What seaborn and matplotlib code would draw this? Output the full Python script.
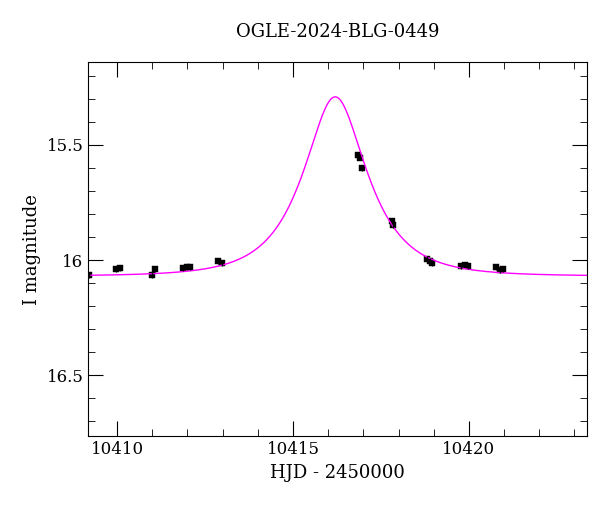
import numpy as np
import pandas as pd
import matplotlib
matplotlib.use("Agg")
import matplotlib.pyplot as plt
import seaborn as sns
from matplotlib.ticker import MultipleLocator

hjd = [10409.2, 10409.98, 10410.08, 10410.98, 10411.08, 10411.88, 10411.98, 10412.08,
       10412.88, 10412.98, 10416.85, 10416.9, 10416.95, 10417.8, 10417.85,
       10418.8, 10418.9, 10418.95, 10419.78, 10419.88, 10419.98, 10420.78, 10420.88, 10420.98]
mag = [16.065, 16.04, 16.035, 16.065, 16.04, 16.035, 16.03, 16.03,
       16.005, 16.015, 15.545, 15.555, 15.6, 15.83, 15.85,
       15.995, 16.005, 16.012, 16.025, 16.02, 16.025, 16.03, 16.045, 16.04]
err = [0.012] * len(hjd)

# PSPL model parameters
t0, u0, tE, I0, fs = 10416.2, 0.54, 1.5, 16.07, 1.0

t = np.linspace(10409.18, 10423.35, 800)
u = np.sqrt(u0**2 + ((t - t0) / tE) ** 2)
A = (u**2 + 2) / (u * np.sqrt(u**2 + 4))
model = I0 - 2.5 * np.log10(fs * A + 1 - fs)

plt.rcParams["font.family"] = "DejaVu Serif"
fig, ax = plt.subplots(figsize=(6, 5.12), dpi=100)
fig.subplots_adjust(left=0.147, right=0.978, top=0.879, bottom=0.148)

sns.lineplot(x=t, y=model, ax=ax, color="#ff00ff", lw=1)
df = pd.DataFrame({"hjd": hjd, "mag": mag})
ax.errorbar(hjd, mag, yerr=err, fmt="none", ecolor="black", lw=1)
sns.scatterplot(data=df, x="hjd", y="mag", ax=ax, marker="s", s=14, color="black", edgecolor="black")

ax.set_xlim(10409.18, 10423.35)
ax.set_ylim(16.765, 15.14)
ax.set_xticks([10410, 10415, 10420])
ax.set_xticklabels(["10410", "10415", "10420"])
ax.set_yticks([15.5, 16, 16.5])
ax.set_yticklabels(["15.5", "16", "16.5"])
ax.xaxis.set_minor_locator(MultipleLocator(1))
ax.yaxis.set_minor_locator(MultipleLocator(0.1))
ax.tick_params(which="both", direction="in", top=True, right=True, labelsize=12)
ax.tick_params(which="major", length=11)
ax.tick_params(which="minor", length=5)
ax.set_xlabel("HJD - 2450000", fontsize=13)
ax.set_ylabel("I magnitude", fontsize=13)
ax.set_title("OGLE-2024-BLG-0449", fontsize=13, pad=18)
fig.savefig("out.png")
